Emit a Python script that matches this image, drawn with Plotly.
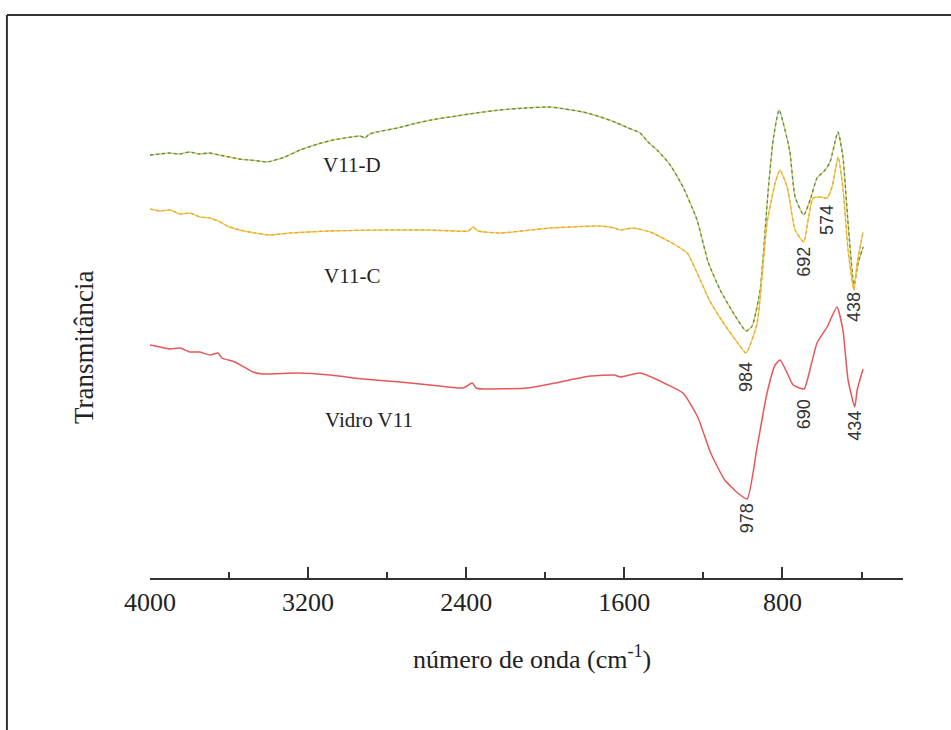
import plotly.graph_objects as go

# FTIR spectra (transmittance in arbitrary units, curves offset vertically)
wn_d = [4000, 3950, 3900, 3850, 3800, 3750, 3700, 3650, 3600, 3550, 3494, 3450,
        3408, 3317, 3241, 3150, 3074, 2980, 2937, 2912, 2890, 2851, 2750, 2649,
        2550, 2482, 2350, 2229, 2100, 1976, 1900, 1809, 1720, 1637, 1580, 1520,
        1480, 1434, 1368, 1303, 1232, 1176, 1115, 1039, 984, 953, 913, 872, 847,
        817, 764, 736, 692, 660, 625, 584, 559, 519, 494, 468, 438, 417, 392]
t_d = [423, 424, 425, 424, 426, 424, 425, 423, 421, 419, 418, 417,
       416, 421, 428, 434, 438, 441, 442, 440, 444, 446, 450, 455,
       459, 461, 465, 468, 470, 471, 469, 466, 461, 455, 450, 445,
       436, 428, 413, 391, 358, 316, 288, 262, 247, 252, 288, 388, 438,
       468, 428, 381, 363, 378, 400, 408, 416, 446, 421, 355, 293, 315, 331]

wn_c = [4000, 3949, 3899, 3848, 3798, 3747, 3696, 3646, 3610, 3545, 3469, 3393,
        3291, 3089, 2836, 2583, 2390, 2365, 2340, 2229, 1976, 1723, 1650, 1620,
        1556, 1470, 1368, 1282, 1220, 1170, 1115, 1030, 984, 928, 878, 837, 812,
        776, 736, 692, 670, 645, 609, 574, 549, 518, 493, 468, 438, 422, 392]
t_c = [369, 367, 368, 364, 365, 361, 360, 356, 352, 348, 345, 343,
       345, 347, 348, 348, 347, 351, 347, 345, 350, 352, 350, 348,
       350, 346, 336, 325, 300, 278, 260, 236, 225, 255, 355, 395, 408,
       391, 348, 336, 358, 380, 381, 380, 391, 421, 388, 328, 288, 315, 346]

wn_v = [4000, 3949, 3899, 3848, 3798, 3747, 3696, 3656, 3636, 3570, 3479, 3428,
        3256, 3089, 2922, 2735, 2583, 2416, 2370, 2350, 2315, 2092, 1976, 1773,
        1650, 1620, 1520, 1430, 1400, 1303, 1229, 1163, 1092, 1020, 978, 928,
        878, 837, 812, 776, 746, 690, 670, 625, 574, 524, 494, 468, 434, 422, 392]
t_v = [233, 231, 229, 230, 226, 226, 223, 225, 220, 216, 206, 204,
       205, 203, 199, 196, 193, 190, 195, 190, 189, 190, 194, 202,
       203, 201, 205, 198, 195, 185, 161, 125, 98, 84, 79, 131,
       185, 213, 218, 205, 193, 189, 201, 235, 251, 271, 248, 198, 171, 188, 209]

series_labels = ["V11-D", "V11-C", "Vidro V11"]
series_label_pos = [(2978, 413), (2978, 302), (2892, 158)]

peak_labels = ["984", "692", "574", "438", "978", "690", "434"]
peak_label_pos = [(984, 201), (692, 316), (574, 358), (438, 271),
                  (978, 60), (690, 164), (434, 152)]

x_ticks = [4000, 3200, 2400, 1600, 800]

fig = go.Figure()

line_kw = dict(shape="spline", smoothing=0.5)

# V11-D: yellow base with green dotted overlay
fig.add_trace(go.Scatter(x=wn_d, y=t_d, mode="lines",
                         line=dict(color="#d9cf5a", width=1.4, **line_kw)))
fig.add_trace(go.Scatter(x=wn_d, y=t_d, mode="lines",
                         line=dict(color="#4f8a6a", width=1.3, dash="dot", **line_kw)))
# V11-C: yellow base with orange dotted overlay
fig.add_trace(go.Scatter(x=wn_c, y=t_c, mode="lines",
                         line=dict(color="#f0d040", width=1.4, **line_kw)))
fig.add_trace(go.Scatter(x=wn_c, y=t_c, mode="lines",
                         line=dict(color="#e8a050", width=1.2, dash="dot", **line_kw)))
# Vidro V11
fig.add_trace(go.Scatter(x=wn_v, y=t_v, mode="lines",
                         line=dict(color="#e8585a", width=1.5, **line_kw)))

annotations = []
for txt, (x, y) in zip(series_labels, series_label_pos):
    annotations.append(dict(x=x, y=y, xref="x", yref="y", text=txt, showarrow=False,
                            font=dict(family="Liberation Serif", size=21, color="#222")))
for txt, (x, y) in zip(peak_labels, peak_label_pos):
    annotations.append(dict(x=x, y=y, xref="x", yref="y", text=txt, showarrow=False,
                            textangle=-90,
                            font=dict(family="Liberation Sans", size=18, color="#333")))
annotations.append(dict(x=-0.0876, y=0.414, xref="paper", yref="paper",
                        xanchor="center", yanchor="middle",
                        text="Transmitância", showarrow=False, textangle=-90,
                        font=dict(family="Liberation Serif", size=27, color="#222")))
annotations.append(dict(x=0.507, y=-0.143, xref="paper", yref="paper",
                        xanchor="center", yanchor="middle",
                        text="número de onda (cm<sup>-1</sup>)", showarrow=False,
                        font=dict(family="Liberation Serif", size=26, color="#222")))

# outer frame (top and left edges visible)
shapes = [
    dict(type="line", xref="paper", yref="paper", x0=-0.19, x1=1.2, y0=1.009, y1=1.009,
         line=dict(color="#333", width=2)),
    dict(type="line", xref="paper", yref="paper", x0=-0.19, x1=-0.19, y0=1.009, y1=-0.3,
         line=dict(color="#333", width=2)),
]

fig.update_layout(
    width=951, height=730,
    margin=dict(l=150, r=48, t=20, b=152),
    paper_bgcolor="white", plot_bgcolor="white",
    showlegend=False,
    annotations=annotations,
    shapes=shapes,
    xaxis=dict(range=[4000, 190], tickvals=x_ticks, ticktext=[str(v) for v in x_ticks],
               showline=True, linecolor="#333", linewidth=2,
               ticks="inside", ticklen=11, tickwidth=2, tickcolor="#333",
               minor=dict(ticks="inside", ticklen=6, tickwidth=2, tickcolor="#333",
                          tickvals=[3600, 2800, 2000, 1200, 400]),
               showgrid=False, zeroline=False, ticklabelstandoff=0,
               tickfont=dict(family="Liberation Serif", size=26, color="#222")),
    yaxis=dict(range=[0, 558], visible=False, showgrid=False, zeroline=False),
)

fig.write_html("out.html")
